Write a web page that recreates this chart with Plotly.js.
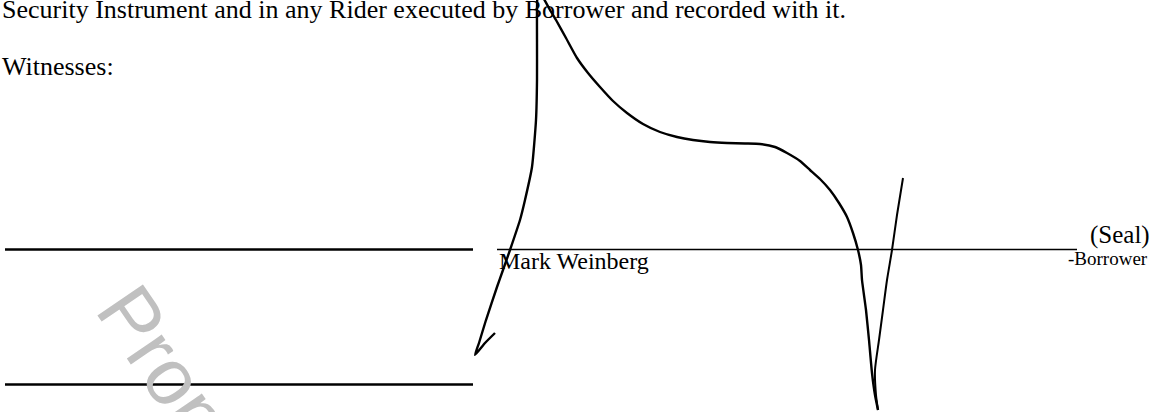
<!DOCTYPE html>
<html>
<head>
<meta charset="utf-8">
<script src="https://cdn.plot.ly/plotly-3.0.1.min.js"></script>
<style>html,body{margin:0;padding:0;background:#fff;}#chart{width:1160px;height:412px;}</style>
</head>
<body>
<div id="chart"></div>
<script>
// Document text
var bodyLine = "Security Instrument and in any Rider executed by Borrower and recorded with it.";
var witnessLabel = "Witnesses:";
var signerName = "Mark Weinberg";
var sealLabel = "(Seal)";
var roleLabel = "-Borrower";
var watermark = "Property";

// Signature lines (x start/end, y)
var witnessLine1X = [5, 473];  var witnessLine1Y = [249.5, 249.5];
var witnessLine2X = [5, 473];  var witnessLine2Y = [384.5, 384.5];
var borrowerLineX = [497, 1077]; var borrowerLineY = [249.5, 249.5];

// Handwritten signature stroke
var sigX = [495, 485, 475, 479, 486, 497, 503, 510, 520, 525, 532, 536, 537, 537, 537, 538,
            544, 550, 556, 566, 577, 588, 600, 613, 627, 643, 660, 677, 693, 710, 727, 745,
            760, 775, 787, 800, 810, 820, 830, 839, 847, 853, 858, 861, 862, 866, 869, 872, 875, 878];
var sigY = [333, 343, 355, 343, 320, 287, 270, 250, 220, 200, 167, 120, 80, 40, 10, -12,
            -1, 10, 20, 38, 58, 73, 87, 101, 113, 124, 132, 137, 140, 142, 143, 143.5,
            144, 147, 153, 161, 170, 179, 190, 203, 217, 233, 250, 265, 280, 310, 340, 373, 395, 410];
var tailX = [878, 876, 875, 879, 883, 887, 892, 897, 903];
var tailY = [410, 395, 370, 340, 310, 280, 250, 215, 178];

var black = '#000000';
var traces = [
  {x: witnessLine1X, y: witnessLine1Y, mode: 'lines', line: {color: black, width: 2.7}},
  {x: witnessLine2X, y: witnessLine2Y, mode: 'lines', line: {color: black, width: 2.7}},
  {x: borrowerLineX, y: borrowerLineY, mode: 'lines', line: {color: black, width: 1.7}},
  {x: sigX, y: sigY, mode: 'lines', line: {color: black, width: 2.4, shape: 'spline', smoothing: 0.5}},
  {x: tailX, y: tailY, mode: 'lines', line: {color: black, width: 2, shape: 'spline', smoothing: 0.6}}
];

var serif = 'Liberation Serif, Times New Roman, serif';
var layout = {
  width: 1160, height: 412,
  margin: {l: 0, r: 0, t: 0, b: 0},
  paper_bgcolor: '#ffffff', plot_bgcolor: '#ffffff',
  showlegend: false,
  xaxis: {range: [0, 1160], visible: false, fixedrange: true},
  yaxis: {range: [412, 0], visible: false, fixedrange: true},
  annotations: [
    {text: watermark, x: 202 / 1160, y: 1 - 419 / 412, xref: 'paper', yref: 'paper', xanchor: 'center', yanchor: 'middle',
     textangle: 55.7, showarrow: false, font: {family: 'Liberation Sans, Arial, sans-serif', size: 80, color: '#c0c0c0'}},
    {text: bodyLine, x: 0, y: 9, xref: 'x', yref: 'y', xanchor: 'left', yanchor: 'middle', showarrow: false,
     font: {family: serif, size: 26, color: black}},
    {text: witnessLabel, x: 0, y: 66, xref: 'x', yref: 'y', xanchor: 'left', yanchor: 'middle', showarrow: false,
     font: {family: serif, size: 26, color: black}},
    {text: signerName, x: 497, y: 261, xref: 'x', yref: 'y', xanchor: 'left', yanchor: 'middle', showarrow: false,
     font: {family: serif, size: 24, color: black}},
    {text: sealLabel, x: 1152, y: 235, xref: 'x', yref: 'y', xanchor: 'right', yanchor: 'middle', showarrow: false,
     font: {family: serif, size: 25, color: black}},
    {text: roleLabel, x: 1150, y: 258, xref: 'x', yref: 'y', xanchor: 'right', yanchor: 'middle', showarrow: false,
     font: {family: serif, size: 19, color: black}}
  ]
};
Plotly.newPlot('chart', traces, layout, {staticPlot: true, displayModeBar: false});
</script>
</body>
</html>
